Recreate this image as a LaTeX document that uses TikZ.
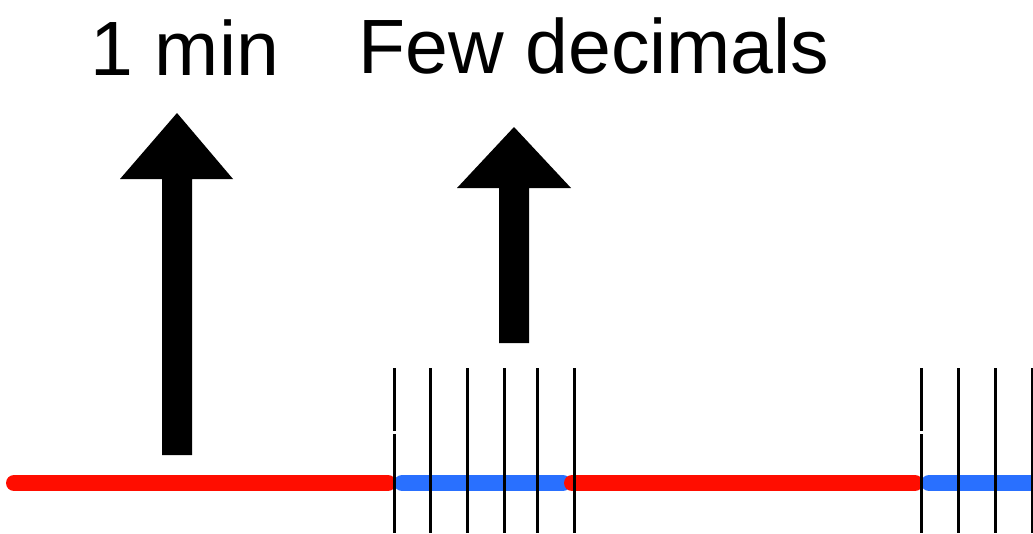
\documentclass[tikz,border=0pt]{standalone}
\usepackage{fontspec}
\setmainfont{Liberation Sans}
\definecolor{segred}{RGB}{255,13,0}
\definecolor{segblue}{RGB}{41,112,255}
\begin{document}
\begin{tikzpicture}[x=1pt,y=-1pt,
  lbl/.style={font=\fontsize{77}{80}\selectfont, inner sep=0pt, anchor=base},
  redseg/.style={draw=segred, line width=16pt, line cap=round},
  blueseg/.style={draw=segblue, line width=16pt, line cap=round},
  tick/.style={draw=black, line width=3pt},
  blockarrow/.style={fill=black}]
\useasboundingbox (0,0) rectangle (1033,533);
% labels
\node[lbl] (lmin) at (185,75) {1 min};
\node[lbl] (lfew) at (594,73) {Few decimals};
% block arrows
\fill[blockarrow] (162,455) -- (162,179) -- (120,179) -- (177,113) -- (233,179) -- (192,179) -- (192,455) -- cycle;
\fill[blockarrow] (499,343) -- (499,188) -- (457,188) -- (514,127) -- (571,188) -- (529,188) -- (529,343) -- cycle;
% timeline segments
\coordinate (r1a) at (14,483);
\coordinate (r1b) at (388,483);
\coordinate (b1a) at (402,483);
\coordinate (b1b) at (563,483);
\coordinate (r2a) at (572,483);
\coordinate (r2b) at (915,483);
\coordinate (b2a) at (929,483);
\coordinate (b2b) at (1045,483);
\draw[redseg] (r1a) -- (r1b);
\draw[blueseg] (b1a) -- (b1b);
\draw[redseg] (r2a) -- (r2b);
\draw[blueseg] (b2a) -- (b2b);
% tick lines
\foreach \x/\first in {394/1,430/0,467/0,504/0,537/0,574/0,921/1,958/0,995/0,1032/0}{
  \ifnum\first=1
    \draw[tick] (\x,368) -- (\x,431);
    \draw[tick] (\x,434) -- (\x,533);
  \else
    \draw[tick] (\x,368) -- (\x,533);
  \fi
}
\end{tikzpicture}
\end{document}
